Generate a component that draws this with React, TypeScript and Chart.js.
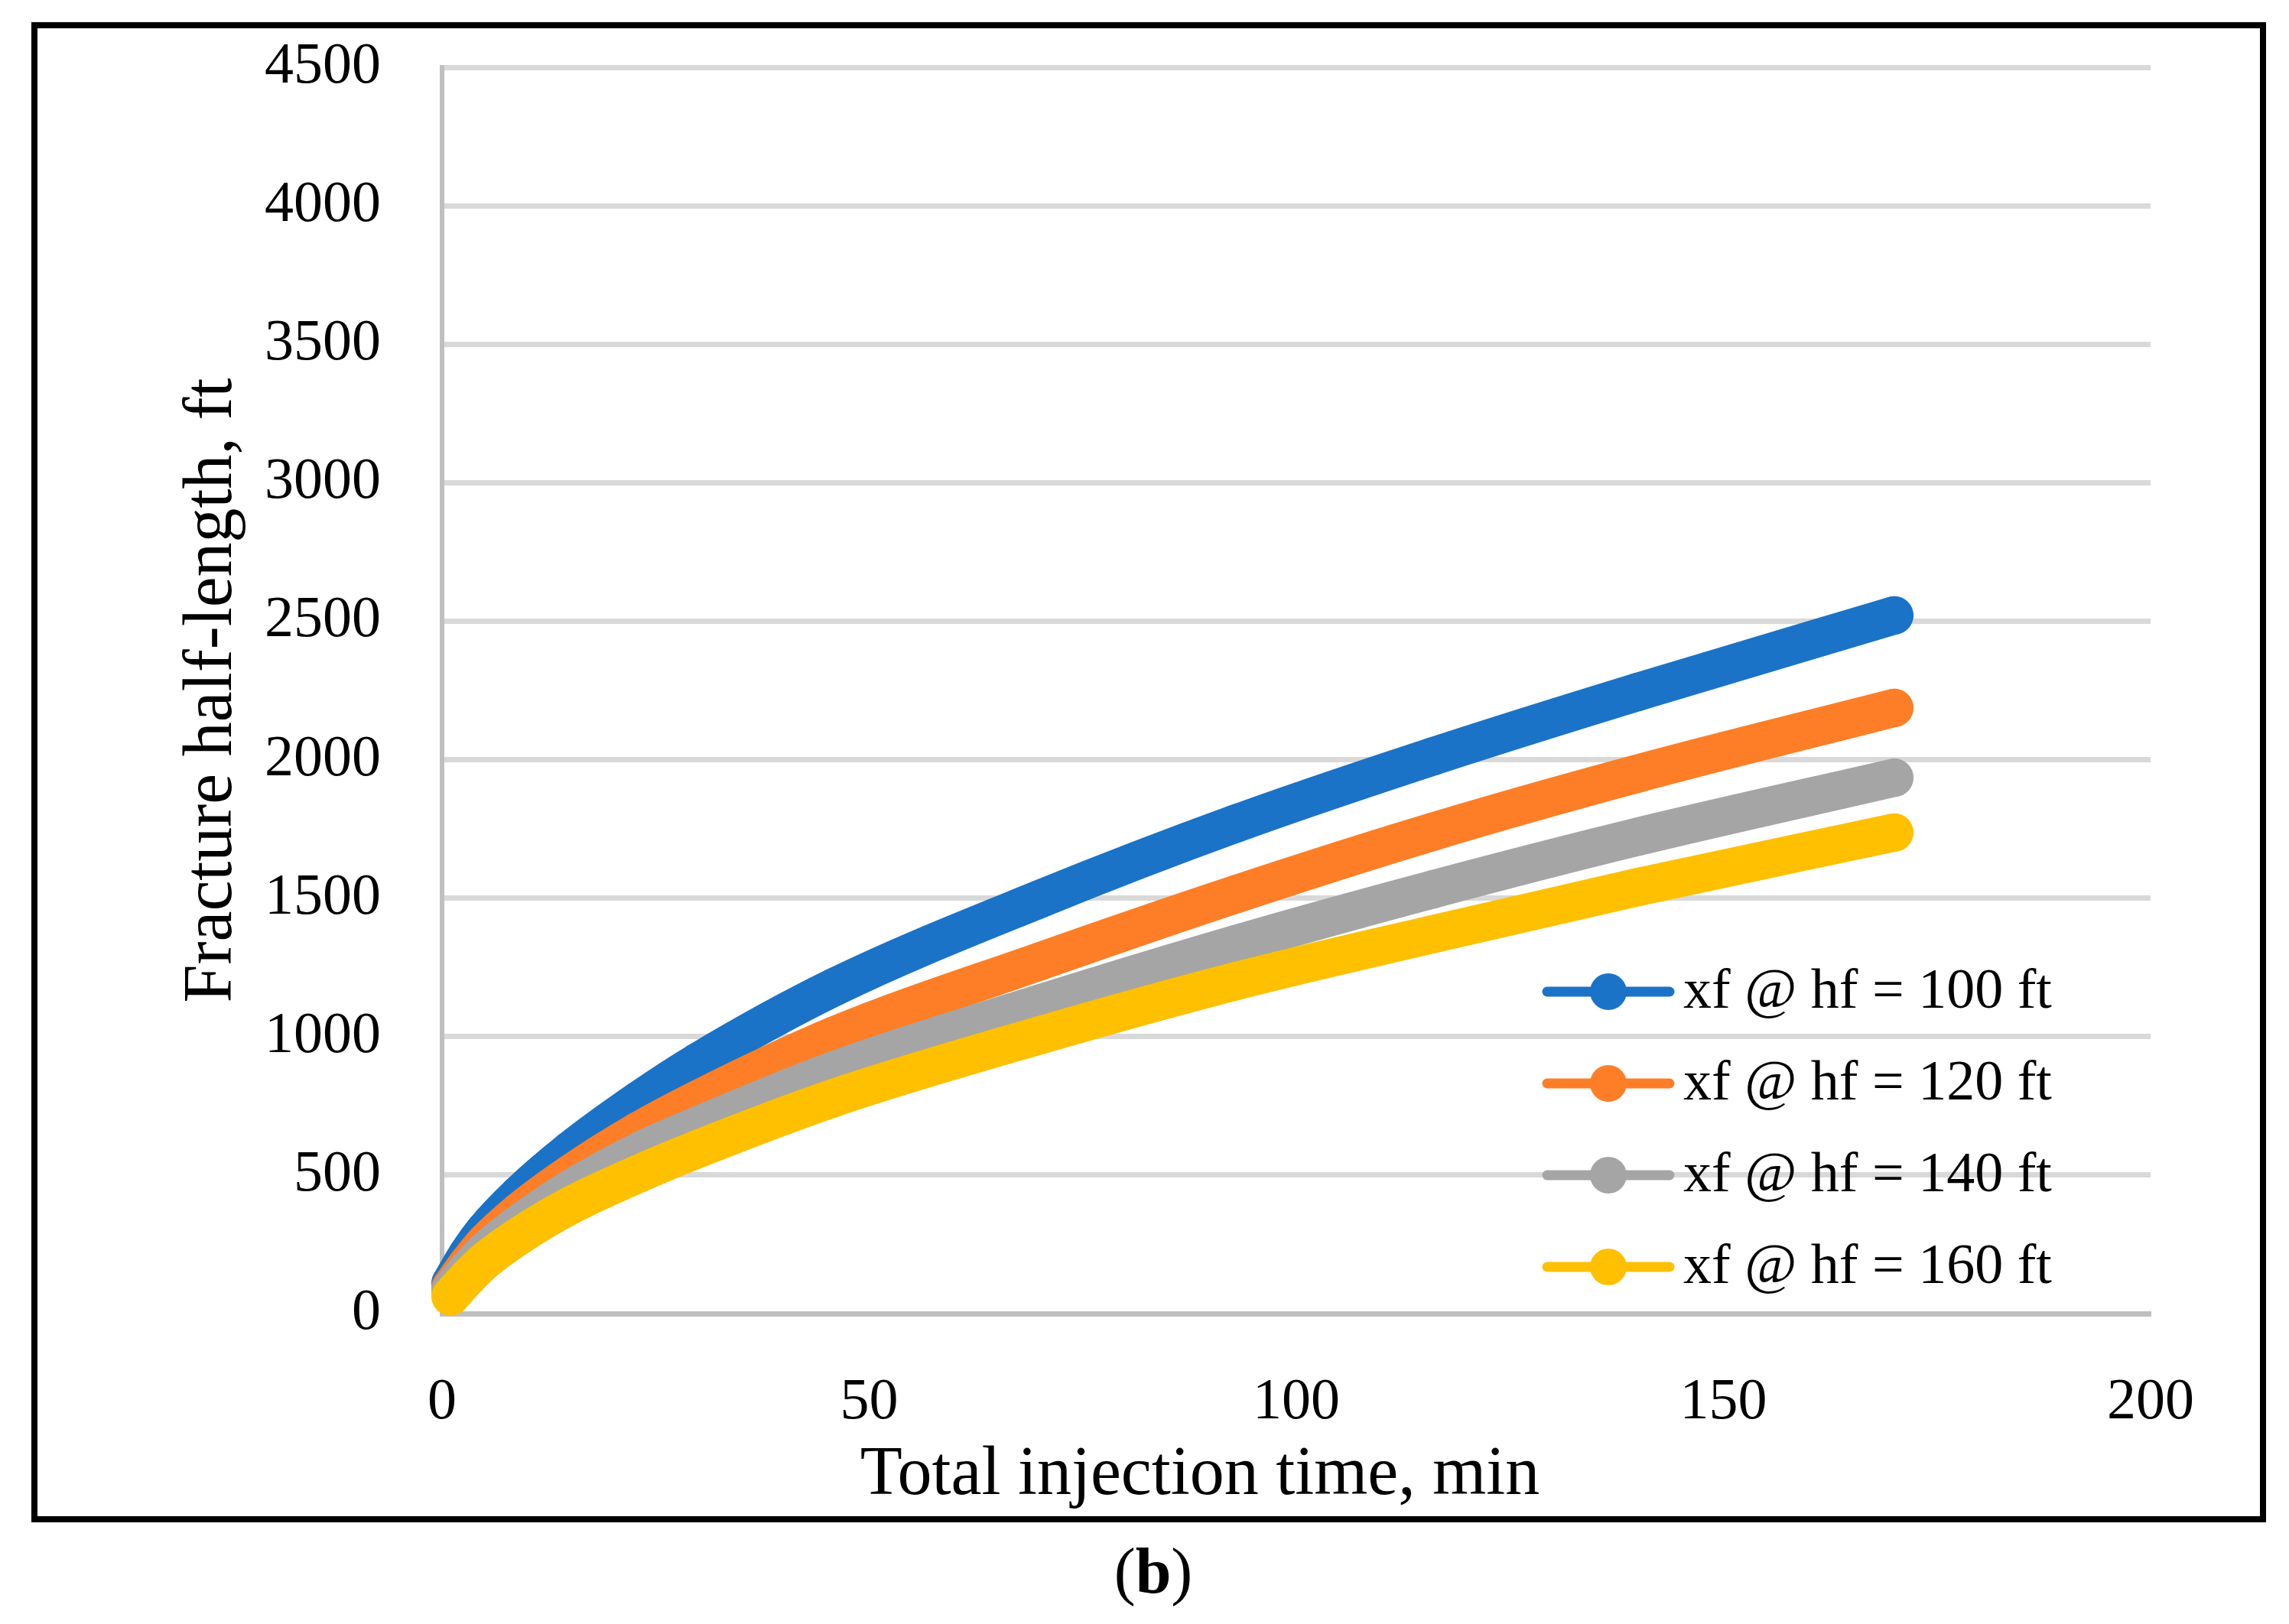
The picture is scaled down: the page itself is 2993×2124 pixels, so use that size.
import React, { useEffect, useRef } from "react";
import { Chart, registerables } from "chart.js";

Chart.register(...registerables);

// ---- data ----
const timeMin = [1, 3, 5, 9, 15, 23, 30, 46, 70, 93, 116, 140, 170];
const xfHf100 = [110, 215, 300, 430, 590, 770, 910, 1180, 1497, 1770, 2012, 2245, 2521];
const xfHf120 = [95, 180, 255, 368, 505, 660, 775, 1005, 1272, 1515, 1740, 1950, 2187];
const xfHf140 = [85, 160, 225, 325, 450, 585, 680, 880, 1120, 1335, 1532, 1722, 1935];
const xfHf160 = [62, 130, 190, 280, 390, 505, 595, 780, 1005, 1201, 1370, 1540, 1737];

const seriesLabels = ["xf @ hf = 100 ft", "xf @ hf = 120 ft", "xf @ hf = 140 ft", "xf @ hf = 160 ft"];
const seriesValues = [xfHf100, xfHf120, xfHf140, xfHf160];
const seriesColors = ["#1A73C6", "#FD7E26", "#A5A5A5", "#FEC000"];

const xTitle = "Total injection time, min";
const yTitle = "Fracture half-length, ft";
const panelLabel = "b";

const FONT = "'Liberation Serif', 'Times New Roman', serif";

const decorPlugin = {
  id: "decor",
  afterDraw(chart: any) {
    const ctx = chart.ctx as CanvasRenderingContext2D;
    ctx.save();
    // outer frame
    ctx.strokeStyle = "#000";
    ctx.lineWidth = 8;
    ctx.strokeRect(45, 33, 2914, 1954);

    ctx.fillStyle = "#000";
    // x title
    ctx.font = `90px ${FONT}`;
    ctx.textAlign = "center";
    ctx.textBaseline = "alphabetic";
    ctx.fillText(xTitle, 1569, 1954);
    // y title
    ctx.save();
    ctx.translate(302, 903);
    ctx.rotate(-Math.PI / 2);
    ctx.fillText(yTitle, 0, 0);
    ctx.restore();

    // legend
    const rowY = [1297, 1417, 1537, 1657];
    seriesLabels.forEach((lab, i) => {
      const y = rowY[i];
      ctx.strokeStyle = seriesColors[i];
      ctx.lineWidth = 13;
      ctx.lineCap = "round";
      ctx.beginPath();
      ctx.moveTo(2023, y);
      ctx.lineTo(2183, y);
      ctx.stroke();
      ctx.fillStyle = seriesColors[i];
      ctx.beginPath();
      ctx.arc(2103, y, 24, 0, Math.PI * 2);
      ctx.fill();
      ctx.fillStyle = "#000";
      ctx.font = `74px ${FONT}`;
      ctx.textAlign = "left";
      ctx.textBaseline = "middle";
      ctx.fillText(lab, 2201, y + 2);
    });

    // panel label "(b)"
    ctx.textBaseline = "alphabetic";
    ctx.textAlign = "left";
    const normal = `84px ${FONT}`;
    const bold = `bold 84px ${FONT}`;
    ctx.font = normal;
    const wo = ctx.measureText("(").width;
    const wc = ctx.measureText(")").width;
    ctx.font = bold;
    const wb = ctx.measureText(panelLabel).width;
    let x = 1508 - (wo + wb + wc) / 2;
    ctx.font = normal;
    ctx.fillText("(", x, 2083);
    x += wo;
    ctx.font = bold;
    ctx.fillText(panelLabel, x, 2083);
    x += wb;
    ctx.font = normal;
    ctx.fillText(")", x, 2083);
    ctx.restore();
  },
};

export default function App() {
  const canvasRef = useRef<HTMLCanvasElement | null>(null);

  useEffect(() => {
    if (!canvasRef.current) return;
    const datasets = seriesLabels.map((label, i) => ({
      label,
      data: timeMin.map((t, k) => ({ x: t, y: seriesValues[i][k] })),
      borderColor: seriesColors[i],
      backgroundColor: seriesColors[i],
      pointBackgroundColor: seriesColors[i],
      pointBorderWidth: 0,
      pointRadius: 25,
      borderWidth: 50,
      borderCapStyle: "round" as const,
      borderJoinStyle: "round" as const,
      cubicInterpolationMode: "monotone" as const,
      fill: false,
      clip: false as any,
      order: 4 - i,
    }));

    const chart = new Chart(canvasRef.current, {
      type: "line",
      data: { datasets },
      plugins: [decorPlugin],
      options: {
        animation: false,
        responsive: true,
        maintainAspectRatio: false,
        events: [],
        layout: { padding: { left: 0, top: 88, right: 181, bottom: 0 } },
        plugins: {
          legend: { display: false },
          tooltip: { enabled: false },
        },
        scales: {
          x: {
            type: "linear",
            min: 0,
            max: 200,
            ticks: {
              stepSize: 50,
              padding: 71,
              color: "#000",
              font: { family: FONT, size: 76 },
              callback: (v: any) => String(v),
            },
            grid: { display: false, drawTicks: false },
            border: { display: true, color: "#BFBFBF", width: 7 },
            afterFit: (s: any) => {
              s.height = 406;
              s.paddingLeft = 0;
              s.paddingRight = 0;
            },
          },
          y: {
            type: "linear",
            min: 0,
            max: 4500,
            ticks: {
              stepSize: 500,
              padding: 80,
              color: "#000",
              font: { family: FONT, size: 76 },
              callback: (v: any) => String(v),
            },
            grid: {
              drawTicks: false,
              lineWidth: 7,
              color: (c: any) => (c.tick && c.tick.value === 0 ? "#BFBFBF" : "#D9D9D9"),
            },
            border: { display: true, color: "#BFBFBF", width: 6 },
            afterFit: (s: any) => {
              s.width = 578;
              s.paddingTop = 0;
              s.paddingBottom = 0;
            },
          },
        },
      },
    });
    return () => chart.destroy();
  }, []);

  return (
    <div
      style={{
        position: "fixed",
        left: 0,
        top: 0,
        width: 2993,
        height: 2124,
        background: "#fff",
      }}
    >
      <canvas ref={canvasRef} />
    </div>
  );
}
